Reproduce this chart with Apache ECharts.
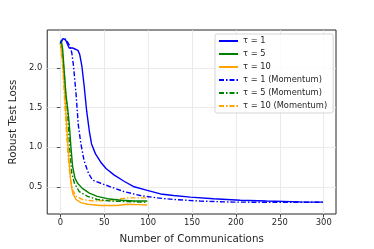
<!DOCTYPE html>
<html><head><meta charset="utf-8">
<script src="https://cdn.jsdelivr.net/npm/echarts@6/dist/echarts.min.js"></script>
<style>html,body{margin:0;padding:0;background:#fff}#c{width:374px;height:249px}</style>
</head><body><div id="c"></div>
<script>
const seriesNames = ['τ = 1','τ = 5','τ = 10','τ = 1 (Momentum)','τ = 5 (Momentum)','τ = 10 (Momentum)'];
const xTicks = [0,50,100,150,200,250,300];
const yTicks = [0.5,1.0,1.5,2.0];

const tau1X = [0,1,3,6,8,10,14,20,22,24.5,27,30,33,35.5,40,46,52,61,72.5,84,99,114,129,148,174.5,205,235,273,299];
const tau1Y = [2.31,2.33,2.37,2.35,2.345,2.25,2.25,2.22,2.17,2.02,1.78,1.45,1.2,1.04,0.915,0.81,0.73,0.65,0.57,0.5,0.455,0.41,0.39,0.37,0.35,0.33,0.32,0.31,0.307];

const tau5X = [0,1,2.6,4.5,6.4,8.3,10.2,12,14,16.6,19.6,25,33,42,53.6,69,84,99];
const tau5Y = [2.31,2.35,2.23,1.94,1.65,1.49,1.28,1.0,0.75,0.61,0.545,0.48,0.42,0.38,0.35,0.33,0.32,0.32];

const tau10X = [0,1,2.6,4.5,6.4,8.3,10.2,12,14,17.8,23.4,31,46,65,76,88,99];
const tau10Y = [2.31,2.33,2.1,1.78,1.41,1.08,0.79,0.545,0.42,0.34,0.30,0.28,0.265,0.265,0.28,0.275,0.27];

const tau1mX = [0,1,3,6.4,8,11,13,15,18,20.4,23.4,27,32,36.6,46,57,72.5,91,110,129,159,197,235,270,299];
const tau1mY = [2.31,2.33,2.37,2.36,2.34,2.27,2.19,2.02,1.65,1.28,1.04,0.83,0.67,0.585,0.545,0.5,0.44,0.39,0.36,0.34,0.32,0.307,0.305,0.305,0.305];

const tau5mX = [0,1,2.6,4.5,6.4,8.3,10.5,13,16,21.5,31,42,57,84,99];
const tau5mY = [2.31,2.33,2.15,1.9,1.65,1.41,1.0,0.67,0.545,0.44,0.38,0.34,0.32,0.31,0.305];

const tau10mX = [0,1,2.6,4.5,6.4,8.3,11,14,17.8,25,38.5,53.6,65,76,91,99];
const tau10mY = [2.31,2.31,2.02,1.65,1.28,0.96,0.63,0.46,0.38,0.34,0.32,0.33,0.34,0.36,0.36,0.36];

const seriesX = [tau1X,tau5X,tau10X,tau1mX,tau5mX,tau10mX];
const seriesY = [tau1Y,tau5Y,tau10Y,tau1mY,tau5mY,tau10mY];
const colors = ['#0000ff','#008000','#ffa500','#0000ff','#008000','#ffa500'];
const dashDot = [5,2,1.5,2];

const font = 'DejaVu Sans';
const chart = echarts.init(document.getElementById('c'), null, {renderer:'canvas'});
chart.setOption({
  animation:false,
  backgroundColor:'#fff',
  grid:{left:46,right:38,top:30,bottom:31,show:true,borderColor:'#262626',borderWidth:1,backgroundColor:'transparent'},
  xAxis:{type:'value',min:-15,max:314,
    name:'Number of Communications',nameLocation:'middle',nameGap:20,
    nameTextStyle:{fontFamily:font,fontSize:10.3,color:'#262626'},
    axisLine:{show:false},
    axisTick:{show:true,length:3.5,lineStyle:{color:'#262626',width:0.8},customValues:xTicks},
    axisLabel:{fontFamily:font,fontSize:8.4,color:'#262626',margin:5,customValues:xTicks},
    splitLine:{show:true,lineStyle:{color:'#e5e5e5',width:0.8}}
  },
  yAxis:{type:'value',min:0.157,max:2.477,
    name:'Robust Test Loss',nameLocation:'middle',nameGap:29,nameRotate:90,
    nameTextStyle:{fontFamily:font,fontSize:10.3,color:'#262626'},
    axisLine:{show:false},
    axisTick:{show:true,length:3.5,lineStyle:{color:'#262626',width:0.8},customValues:yTicks},
    axisLabel:{fontFamily:font,fontSize:8.4,color:'#262626',margin:5,customValues:yTicks,formatter:v=>v.toFixed(1)},
    splitLine:{show:true,lineStyle:{color:'#e5e5e5',width:0.8}}
  },
  legend:{show:true,left:215,top:34,orient:'vertical',itemWidth:19,itemHeight:8,itemGap:5,
    backgroundColor:'rgba(255,255,255,0.85)',borderColor:'#cccccc',borderWidth:0.8,borderRadius:2,
    padding:[3,6,3,3],
    itemStyle:{color:'transparent',borderColor:'transparent',borderWidth:0},
    textStyle:{fontFamily:font,fontSize:8.3,color:'#262626'},
    data:seriesNames
  },
  series:seriesNames.map((n,i)=>({
    name:n,type:'line',symbol:'none',showSymbol:false,smooth:false,
    color:colors[i],
    lineStyle:{color:colors[i],width:1.4,type:i>=3?dashDot:'solid'},
    data:seriesX[i].map((x,j)=>[x,seriesY[i][j]]),
    z:10-i
  }))
});
</script></body></html>
